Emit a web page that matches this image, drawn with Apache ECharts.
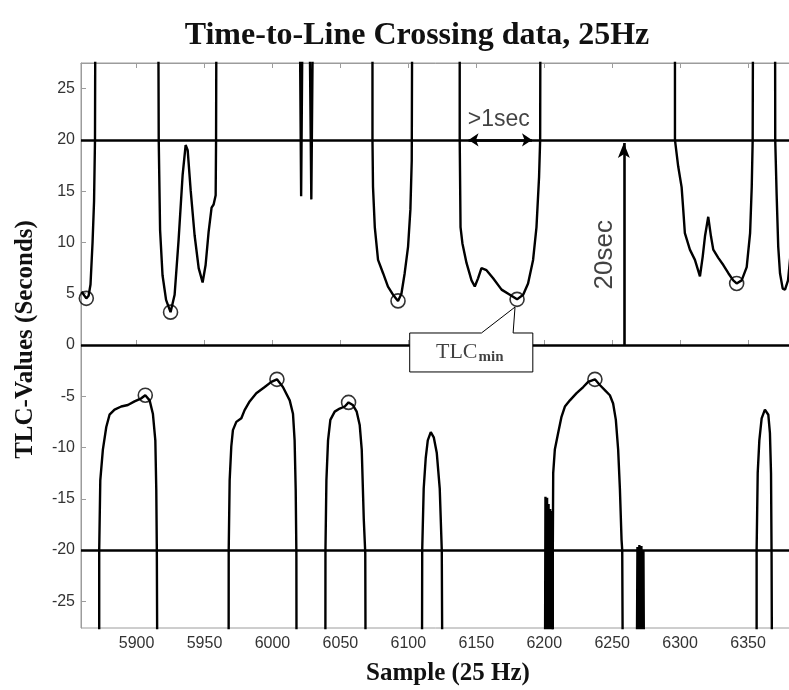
<!DOCTYPE html>
<html>
<head>
<meta charset="utf-8">
<script src="https://cdn.jsdelivr.net/npm/echarts@6/dist/echarts.min.js"></script>
<style>
  html, body { margin: 0; padding: 0; background: #ffffff; }
  #chart { width: 789px; height: 690px; }
</style>
</head>
<body>
<div id="chart"></div>
<script>
// ---- axis ticks ----
const sampleTicks = [5900, 5950, 6000, 6050, 6100, 6150, 6200, 6250, 6300, 6350];
const tlcTicks = [-25, -20, -15, -10, -5, 0, 5, 10, 15, 20, 25];
const thresholds = [20, 0, -20];

// ---- TLC trace: one array per continuous run [sample, seconds] ----
// values of +/-40 stand for TLC running off towards +/- infinity
const run01 = [[5859.5, 5.2], [5863, 4.55], [5864.7, 4.8], [5866.1, 5.9], [5867.6, 10], [5868.7, 14], [5869.4, 20], [5869.8, 40]];
const run02 = [[5872.5, -40], [5872.5, -20], [5873.3, -13.2], [5875.2, -10.2], [5877.7, -8.0], [5880.1, -6.8], [5883.8, -6.3], [5888.7, -6.0], [5893.6, -5.85], [5898.5, -5.5], [5903.5, -5.2], [5906.4, -4.9], [5909.6, -5.4], [5912.0, -6.7], [5913.8, -9.3], [5914.5, -14.1], [5914.9, -20], [5915.5, -40]];
const run03 = [[5915.8, 40], [5916.3, 20], [5917.3, 11.2], [5919.1, 6.8], [5921.7, 4.4], [5925.0, 3.2], [5928.0, 4.9], [5930.9, 10.2], [5933.9, 16.6], [5936.1, 19.5], [5937.6, 19.0], [5939.8, 15.1], [5942.7, 10.7], [5945.7, 7.5], [5948.6, 6.1], [5950.8, 7.8], [5953.0, 11.0], [5955.2, 13.4], [5956.7, 13.7], [5958.2, 14.6], [5958.5, 20], [5958.9, 40]];
const run04 = [[5967.7, -40], [5967.8, -20], [5968.5, -13.2], [5969.7, -9.9], [5970.9, -8.3], [5973.4, -7.5], [5977.1, -7.15], [5979.5, -6.35], [5983.2, -5.5], [5988.1, -4.7], [5994.3, -4.1], [5999.2, -3.6], [6003.3, -3.35], [6007.7, -4.1], [6012.7, -5.4], [6015.1, -6.7], [6016.3, -9.3], [6017.1, -14.1], [6017.6, -20.3], [6017.8, -40]];
const run05 = [[6019.7, 40], [6021.1, 14.5], [6022.6, 40]];
const run06 = [[6026.7, 40], [6028.6, 14.2], [6030.3, 40]];
const run07 = [[6038.9, -40], [6039.0, -20], [6039.7, -13.2], [6040.9, -9.3], [6042.6, -7.3], [6045.8, -6.5], [6049.5, -6.2], [6053.2, -6.0], [6056.0, -5.6], [6059.1, -5.85], [6062.0, -6.5], [6064.2, -7.8], [6065.7, -10.2], [6067.2, -17], [6068.3, -20.3], [6068.7, -40]];
const run08 = [[6073.6, 40], [6073.6, 20], [6074.0, 15.4], [6075.3, 11.5], [6077.7, 8.3], [6081.4, 7.0], [6085.0, 5.7], [6088.7, 4.9], [6092.4, 4.3], [6094.9, 5.0], [6097.3, 7.0], [6099.8, 9.6], [6101.5, 13.2], [6102.5, 18.0], [6103.0, 40]];
const run09 = [[6109.9, -40], [6110.2, -20], [6111.3, -14], [6112.8, -11], [6114.3, -9.3], [6116.5, -8.5], [6118.7, -9.0], [6120.9, -10.5], [6123.1, -14], [6124.6, -20], [6125.3, -40]];
const run10 = [[6137.8, 40], [6137.8, 20], [6138.4, 11.5], [6139.8, 9.9], [6142.8, 8.0], [6146.5, 6.3], [6148.9, 5.7], [6151.3, 6.5], [6153.8, 7.5], [6157.5, 7.3], [6162.4, 6.5], [6168.6, 5.4], [6174.7, 4.9], [6180.0, 4.45], [6184.5, 4.9], [6188.1, 6.0], [6191.8, 8.3], [6194.3, 11.5], [6196.2, 16.4], [6197.0, 20], [6197.3, 40]];
const run11 = [[6200.4, -40], [6200.9, -14.8], [6201.5, -40], [6202.1, -14.9], [6202.7, -40], [6203.2, -15.5], [6203.8, -40], [6204.4, -16], [6205.0, -40], [6205.6, -16.2], [6206.1, -40]];
const run12 = [[6206.3, -40], [6206.3, -20], [6206.6, -12.5], [6207.8, -10.2], [6210.2, -8.6], [6212.7, -7.0], [6215.2, -6.0], [6218.9, -5.4], [6223.8, -4.7], [6228.7, -4.1], [6232.3, -3.6], [6237.3, -3.35], [6240.9, -3.9], [6244.6, -4.4], [6248.3, -4.9], [6250.7, -5.7], [6252.7, -7.3], [6254.4, -10.2], [6255.7, -14.1], [6256.9, -19.0], [6257.4, -20], [6258.1, -40]];
const run13 = [[6267.8, -40], [6268.6, -19.7], [6269.3, -40], [6270.0, -19.5], [6270.8, -40], [6271.5, -19.6], [6272.3, -40], [6273.0, -20], [6273.7, -40]];
const run14 = [[6296.2, 40], [6296.2, 20], [6298.6, 17.4], [6301.1, 15.4], [6302.3, 13.2], [6303.5, 10.9], [6307.2, 9.3], [6310.9, 8.3], [6314.6, 6.7], [6316.6, 8.6], [6318.3, 10.6], [6320.7, 12.5], [6322.7, 10.6], [6324.4, 9.3], [6328.1, 8.5], [6331.8, 7.8], [6335.5, 7.0], [6339.1, 6.3], [6341.6, 6.0], [6345.3, 6.3], [6349.0, 7.6], [6351.5, 10.9], [6352.7, 15.4], [6353.4, 20], [6353.8, 40]];
const run15 = [[6356.3, -40], [6356.3, -20], [6357.1, -12.5], [6358.3, -9.3], [6360.0, -7.15], [6362.4, -6.3], [6364.9, -6.8], [6366.1, -8.6], [6366.9, -12.5], [6367.3, -20.3], [6367.8, -40]];
const run16 = [[6369.8, 40], [6370.0, 20], [6371.0, 14.8], [6372.2, 9.6], [6373.5, 7.0], [6375.5, 5.5], [6377.2, 5.4], [6379.4, 6.3], [6381.6, 9.3]];
const tlcRuns = [run01, run02, run03, run04, run05, run06, run07, run08, run09, run10, run11, run12, run13, run14, run15, run16];

// extreme (minimum |TLC|) points marked with circles
const tlcMinima = [[5863, 4.55], [5906.4, -4.9], [5925.0, 3.2], [6003.3, -3.35], [6056.0, -5.6], [6092.4, 4.3], [6180.0, 4.45], [6237.3, -3.35], [6341.6, 6.0]];

// annotation anchors in data units [sample, seconds]
const spanArrow = [[6144.3, 20], [6191.0, 20]];
const spanLabel = [6166.6, 21.95];
const heightArrow = [[6258.6, 0], [6258.6, 19.7]];
const heightLabel = [6244.6, 8.8];
const calloutOutline = [[6101.0, 1.17], [6153.8, 1.17], [6178.5, 3.7], [6177.1, 1.17], [6191.6, 1.17], [6191.6, -2.63], [6101.0, -2.63]];
const calloutLabel = [6145.2, -0.75];

const chart = echarts.init(document.getElementById('chart'), null, { renderer: 'canvas' });

const axisGray = '#9c9c9c';
const labelFont = 'Liberation Sans, Arial, sans-serif';
const serifFont = 'Liberation Serif, Times New Roman, serif';
const plainNumber = v => String(v);

const traceSeries = tlcRuns.map((run, i) => ({
  type: 'line',
  data: run,
  symbol: 'none',
  clip: true,
  z: 3,
  lineStyle: { color: '#000', width: 2.4 },
  silent: true,
  markLine: i === 0 ? {
    silent: true,
    symbol: ['none', 'none'],
    label: { show: false },
    lineStyle: { color: '#000', width: 2.6, type: 'solid' },
    data: thresholds.map(v => ({ yAxis: v }))
  } : undefined
}));

const option = {
  animation: false,
  backgroundColor: '#ffffff',
  title: {
    text: 'Time-to-Line Crossing data, 25Hz',
    left: 412,
    top: 15,
    textAlign: 'center',
    textStyle: { fontFamily: serifFont, fontWeight: 'bold', fontSize: 32, color: '#111' }
  },
  grid: {
    left: 81, right: -2, top: 63, bottom: 62,
    outerBoundsMode: 'none',
    containLabel: false,
    show: true, borderColor: axisGray, borderWidth: 1, backgroundColor: 'transparent'
  },
  xAxis: [{
    type: 'value',
    min: 5859.1, max: 6381.6,
    position: 'bottom',
    name: 'Sample (25 Hz)',
    nameLocation: 'middle',
    nameGap: 33,
    nameTextStyle: { fontFamily: serifFont, fontWeight: 'bold', fontSize: 25, color: '#111', padding: [0, 0, 0, 24] },
    axisLine: { show: true, lineStyle: { color: axisGray, width: 1 } },
    axisTick: { show: true, inside: true, length: 5, customValues: sampleTicks, lineStyle: { color: axisGray } },
    axisLabel: { customValues: sampleTicks, formatter: plainNumber, fontFamily: labelFont, fontSize: 16, color: '#333', margin: 8 },
    splitLine: { show: false }
  }, {
    type: 'value',
    min: 5859.1, max: 6381.6,
    position: 'top',
    axisLine: { show: true, lineStyle: { color: axisGray, width: 1 } },
    axisTick: { show: true, inside: true, length: 5, customValues: sampleTicks, lineStyle: { color: axisGray } },
    axisLabel: { show: false },
    splitLine: { show: false }
  }],
  yAxis: [{
    type: 'value',
    min: -27.6, max: 27.5,
    name: 'TLC-Values (Seconds)',
    nameLocation: 'middle',
    nameGap: 43,
    nameTextStyle: { fontFamily: serifFont, fontWeight: 'bold', fontSize: 25, color: '#111', padding: [0, 0, 0, 12] },
    axisLine: { show: true, lineStyle: { color: axisGray, width: 1 } },
    axisTick: { show: true, inside: true, length: 5, customValues: tlcTicks, lineStyle: { color: axisGray } },
    axisLabel: { customValues: tlcTicks, formatter: plainNumber, fontFamily: labelFont, fontSize: 16, color: '#333', margin: 6 },
    splitLine: { show: false }
  }],
  series: [
    ...traceSeries,
    {
      type: 'scatter',
      data: tlcMinima,
      symbol: 'circle',
      symbolSize: 14,
      z: 4,
      silent: true,
      itemStyle: { color: 'rgba(0,0,0,0)', borderColor: '#000', borderWidth: 1.6 }
    },
    {
      // span arrow on the 20 s line and the vertical 20 s arrow
      type: 'line',
      data: [],
      z: 4,
      silent: true,
      markLine: {
        silent: true,
        label: { show: false },
        data: [
          [{ coord: spanArrow[0], symbol: 'arrow', symbolSize: [10, 10] },
           { coord: spanArrow[1], symbol: 'arrow', symbolSize: [10, 10] }],
          [{ coord: heightArrow[0], symbol: 'none' },
           { coord: heightArrow[1], symbol: 'arrow', symbolSize: [9, 15] }]
        ],
        lineStyle: { color: '#000', width: 2.6, type: 'solid' }
      }
    },
    {
      // callout box pointing at a TLC minimum
      type: 'custom',
      z: 6,
      silent: true,
      data: [0],
      renderItem: (params, api) => ({
        type: 'polygon',
        shape: { points: calloutOutline.map(p => api.coord(p)) },
        style: { fill: '#ffffff', stroke: '#000', lineWidth: 1 }
      })
    },
    {
      type: 'scatter',
      z: 7,
      silent: true,
      symbolSize: 0,
      data: [
        { value: spanLabel, label: { show: true, position: 'inside', formatter: '>1sec', fontFamily: labelFont, fontSize: 23, color: '#111' } },
        { value: heightLabel, label: { show: true, position: 'inside', rotate: 90, formatter: '20sec', fontFamily: labelFont, fontSize: 26, color: '#111' } },
        { value: calloutLabel, label: {
            show: true, position: 'inside', formatter: '{a|TLC}{b|min}',
            rich: {
              a: { fontFamily: serifFont, fontSize: 22, color: '#111' },
              b: { fontFamily: serifFont, fontSize: 15, fontWeight: 'bold', color: '#111', padding: [8, 0, 0, 1] }
            }
          } }
      ]
    }
  ]
};

chart.setOption(option);
</script>
</body>
</html>
